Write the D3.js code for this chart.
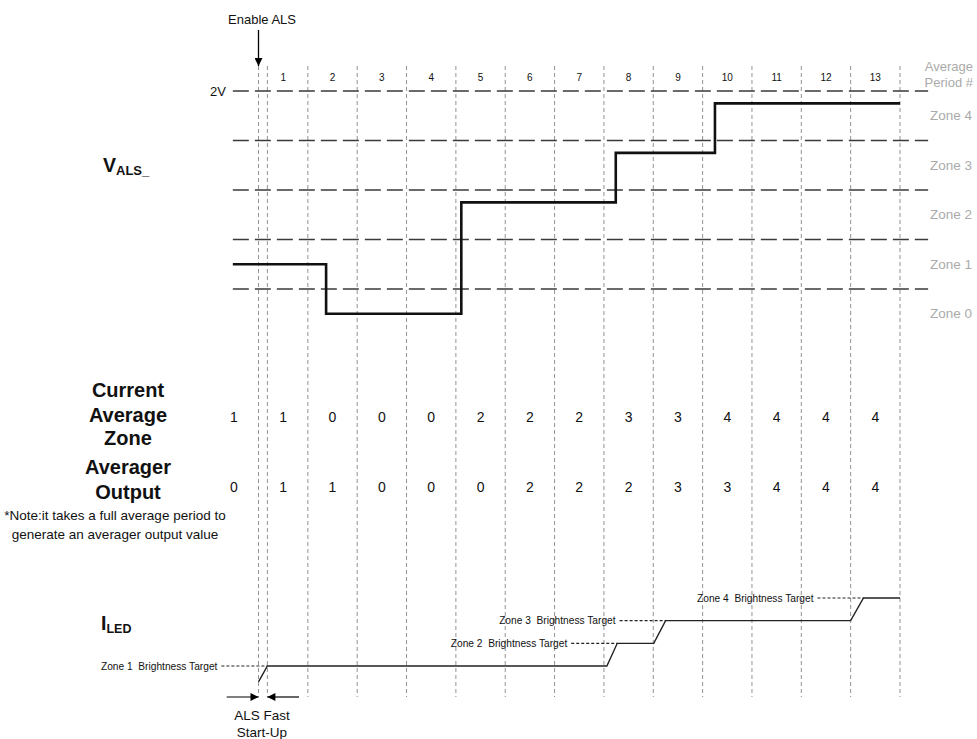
<!DOCTYPE html>
<html>
<head>
<meta charset="utf-8">
<script src="https://cdn.jsdelivr.net/npm/d3@7"></script>
<style>
  body { margin: 0; background: #fff; }
  svg { display: block; font-family: "Liberation Sans", Arial, sans-serif; }
</style>
</head>
<body>
<svg id="chart" width="977" height="739"></svg>
<script>
// ---- data ----
const periodLabels = ["1","2","3","4","5","6","7","8","9","10","11","12","13"];
const boundaries = [0,1,2,3,4,5,6,7,8,9,10,11,12,13];
const fastStartEnd = 0.18;                 // end of ALS fast start-up (periods)
const zoneThresholds = [0.4, 0.8, 1.2, 1.6, 2.0];   // volts
const zoneNames = ["Zone 0","Zone 1","Zone 2","Zone 3","Zone 4"];
const zoneCenters = [0.2, 0.6, 1.0, 1.4, 1.8];
// V_ALS steps: time (periods) and level (volts)
const valsT = [-0.52, 1.37, 4.11, 7.24, 9.25, 13];
const valsV = [0.6, 0.2, 1.1, 1.5, 1.9, 1.9];
// rows of numbers, one per period (first one before Enable ALS)
const currentZone = [1,1,0,0,0,2,2,2,3,3,4,4,4,4];
const averagerOut = [0,1,1,0,0,0,2,2,2,3,3,4,4,4];
// I_LED trace: time (periods) and brightness level (zone target)
const iledT = [0, 0.18, 7.06, 7.27, 8.01, 8.25, 12.0, 12.26, 13];
const iledV = [0.3, 1, 1, 2, 2, 3, 3, 4, 4];
const targetZones = [1, 2, 3, 4];
const targetReachT = [0.18, 7.27, 8.25, 12.26];

// ---- scales ----
const x = d3.scaleLinear().domain([0, 13]).range([258.5, 900]);
const yV = d3.scaleLinear().domain([0, 2]).range([338.5, 91]);
const yI = d3.scaleLinear().domain([1, 4]).range([666, 598]);

const svg = d3.select("#chart");

// arrow markers
const defs = svg.append("defs");
defs.append("marker").attr("id", "arr")
  .attr("viewBox", "0 0 10 10").attr("refX", 10).attr("refY", 5)
  .attr("markerWidth", 9).attr("markerHeight", 8).attr("markerUnits", "userSpaceOnUse")
  .attr("orient", "auto")
  .append("path").attr("d", "M0,0L10,5L0,10Z").attr("fill", "#000");

// vertical period boundaries
svg.append("g").selectAll("line")
  .data(boundaries.concat([fastStartEnd]))
  .join("line")
  .attr("x1", d => x(d)).attr("x2", d => x(d))
  .attr("y1", 66).attr("y2", 697)
  .attr("stroke", "#939393").attr("stroke-width", 1)
  .attr("stroke-dasharray", "4,3");

// period numbers
svg.append("g").selectAll("text")
  .data(periodLabels)
  .join("text")
  .attr("x", (d, i) => x(i + 0.5)).attr("y", 81)
  .attr("text-anchor", "middle").attr("font-size", 10).attr("fill", "#111")
  .text(d => d);

svg.append("text").attr("x", 973).attr("y", 71).attr("text-anchor", "end")
  .attr("font-size", 13).attr("fill", "#aaa").text("Average");
svg.append("text").attr("x", 973).attr("y", 87).attr("text-anchor", "end")
  .attr("font-size", 13).attr("fill", "#aaa").text("Period #");

// zone threshold lines
svg.append("g").selectAll("line")
  .data(zoneThresholds)
  .join("line")
  .attr("x1", x(-0.52)).attr("x2", x(13.57))
  .attr("y1", d => yV(d)).attr("y2", d => yV(d))
  .attr("stroke", "#3a3a3a").attr("stroke-width", 1.5)
  .attr("stroke-dasharray", "16,6");

svg.append("text").attr("x", 226).attr("y", yV(2)).attr("dy", "0.35em")
  .attr("text-anchor", "end").attr("font-size", 13).attr("fill", "#111").text("2V");

// zone labels
svg.append("g").selectAll("text")
  .data(zoneNames)
  .join("text")
  .attr("x", 951).attr("y", (d, i) => yV(zoneCenters[i])).attr("dy", "0.35em")
  .attr("text-anchor", "middle").attr("font-size", 13.5).attr("fill", "#aaa")
  .text(d => d);

// V_ALS trace
const valsLine = d3.line().x(d => x(d[0])).y(d => yV(d[1])).curve(d3.curveStepAfter);
svg.append("path")
  .attr("d", valsLine(valsT.map((t, i) => [t, valsV[i]])))
  .attr("fill", "none").attr("stroke", "#111").attr("stroke-width", 2.6);

// Enable ALS
svg.append("text").attr("x", 262).attr("y", 23.5).attr("text-anchor", "middle")
  .attr("font-size", 13).attr("fill", "#111").text("Enable ALS");
svg.append("line").attr("x1", x(0)).attr("x2", x(0)).attr("y1", 30).attr("y2", 66)
  .attr("stroke", "#000").attr("stroke-width", 1.3).attr("marker-end", "url(#arr)");

// left labels
const vals = svg.append("text").attr("x", 103).attr("y", 172)
  .attr("font-weight", "bold").attr("font-size", 19.5).attr("fill", "#111");
vals.append("tspan").text("V");
vals.append("tspan").attr("dy", 3).attr("font-size", 13).text("ALS_");

const iled = svg.append("text").attr("x", 101).attr("y", 630)
  .attr("font-weight", "bold").attr("font-size", 19.5).attr("fill", "#111");
iled.append("tspan").text("I");
iled.append("tspan").attr("dy", 3).attr("font-size", 12.5).text("LED");

const rowLabels = [["Current", 390], ["Average", 415], ["Zone", 438], ["Averager", 467], ["Output", 492]];
svg.append("g").selectAll("text")
  .data(rowLabels)
  .join("text")
  .attr("x", 128).attr("y", d => d[1]).attr("dy", "0.35em")
  .attr("text-anchor", "middle").attr("font-weight", "bold").attr("font-size", 20)
  .attr("fill", "#111").text(d => d[0]);

const noteLines = ["*Note:it takes a full average period to", "generate an averager output value"];
svg.append("g").selectAll("text")
  .data(noteLines)
  .join("text")
  .attr("x", 115).attr("y", (d, i) => 515 + i * 19).attr("dy", "0.35em")
  .attr("text-anchor", "middle").attr("font-size", 13.5).attr("fill", "#111")
  .text(d => d);

// number rows
function numberRow(values, yc) {
  svg.append("g").selectAll("text")
    .data(values)
    .join("text")
    .attr("x", (d, i) => x(i - 0.5)).attr("y", yc).attr("dy", "0.35em")
    .attr("text-anchor", "middle").attr("font-size", 14).attr("fill", "#111")
    .text(d => d);
}
numberRow(currentZone, 417.5);
numberRow(averagerOut, 487);

// I_LED trace
const iledLine = d3.line().x(d => x(d[0])).y(d => yI(d[1]));
svg.append("path")
  .attr("d", iledLine(iledT.map((t, i) => [t, iledV[i]])))
  .attr("fill", "none").attr("stroke", "#222").attr("stroke-width", 1.4);

// brightness targets with dashed leaders
const targets = svg.append("g");
targetZones.forEach((z, i) => {
  const xe = x(targetReachT[i]);
  targets.append("line")
    .attr("x1", xe - 46).attr("x2", xe)
    .attr("y1", yI(z)).attr("y2", yI(z))
    .attr("stroke", "#222").attr("stroke-width", 1.2).attr("stroke-dasharray", "3,2");
  targets.append("text")
    .attr("x", xe - 50).attr("y", yI(z)).attr("dy", "0.35em")
    .attr("text-anchor", "end").attr("font-size", 10.2).attr("fill", "#111")
    .style("white-space", "pre")
    .text(`Zone ${z}  Brightness Target`);
});

// ALS fast start-up annotation
svg.append("line").attr("x1", 226.7).attr("x2", x(0)).attr("y1", 697).attr("y2", 697)
  .attr("stroke", "#000").attr("stroke-width", 1.2).attr("marker-end", "url(#arr)");
svg.append("line").attr("x1", 299).attr("x2", x(fastStartEnd)).attr("y1", 697).attr("y2", 697)
  .attr("stroke", "#000").attr("stroke-width", 1.2).attr("marker-end", "url(#arr)");
svg.append("text").attr("x", 262).attr("y", 715.5).attr("dy", "0.35em")
  .attr("text-anchor", "middle").attr("font-size", 13.5).attr("fill", "#111").text("ALS Fast");
svg.append("text").attr("x", 262).attr("y", 732).attr("dy", "0.35em")
  .attr("text-anchor", "middle").attr("font-size", 13.5).attr("fill", "#111").text("Start-Up");
</script>
</body>
</html>
